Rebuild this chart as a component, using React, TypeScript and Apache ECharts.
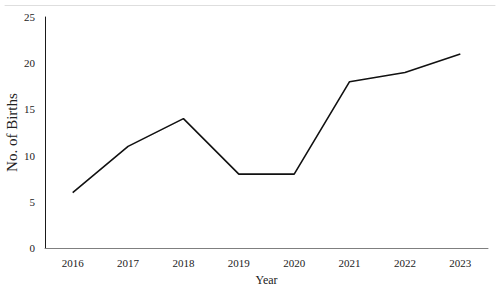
import React, { useEffect, useRef } from "react";
import * as echarts from "echarts";

const years = ["2016", "2017", "2018", "2019", "2020", "2021", "2022", "2023"];
const births = [6, 11, 14, 8, 8, 18, 19, 21];
const yTicks = { min: 0, max: 25, interval: 5 };

export default function App() {
  const ref = useRef<HTMLDivElement>(null);
  useEffect(() => {
    const chart = echarts.init(ref.current!, null, { renderer: "svg" });
    const font = "'Liberation Serif', 'Times New Roman', serif";
    chart.setOption({
      animation: false,
      backgroundColor: "#ffffff",
      textStyle: { fontFamily: font },
      grid: [
        { left: 45, right: 12, top: 17, bottom: 45, containLabel: false, outerBoundsMode: "none" },
        { left: 5, right: 5, top: 5, height: 1, containLabel: false, outerBoundsMode: "none" },
      ],
      xAxis: [
        {
          type: "category",
          gridIndex: 0,
          data: years,
          boundaryGap: true,
          name: "Year",
          nameLocation: "middle",
          nameGap: 26,
          nameMoveOverlap: false,
          nameTextStyle: { fontFamily: font, fontSize: 12, color: "#222" },
          axisLine: { lineStyle: { color: "#7f7f7f", width: 1 } },
          axisTick: { show: false },
          axisLabel: { fontFamily: font, fontSize: 11, color: "#222", margin: 9 },
          splitLine: { show: false },
        },
        {
          type: "value",
          gridIndex: 1,
          position: "top",
          min: 0,
          max: 1,
          axisLine: { show: true, onZero: false, lineStyle: { color: "#dedede", width: 1 } },
          axisTick: { show: false },
          axisLabel: { show: false },
          splitLine: { show: false },
        },
      ],
      yAxis: [
        {
          type: "value",
          gridIndex: 0,
          min: yTicks.min,
          max: yTicks.max,
          interval: yTicks.interval,
          name: "No. of Births",
          nameLocation: "middle",
          nameGap: 26,
          nameMoveOverlap: false,
          nameTextStyle: { fontFamily: font, fontSize: 15, color: "#222" },
          axisLine: { show: true, lineStyle: { color: "#1a1a1a", width: 1 } },
          axisTick: { show: false },
          axisLabel: { fontFamily: font, fontSize: 11, color: "#222", margin: 10 },
          splitLine: { show: false },
        },
        {
          type: "value",
          gridIndex: 1,
          show: false,
          min: 0,
          max: 1,
        },
      ],
      series: [
        {
          type: "line",
          xAxisIndex: 0,
          yAxisIndex: 0,
          data: births,
          symbol: "none",
          lineStyle: { color: "#111", width: 1.6 },
        },
      ],
    });
    return () => chart.dispose();
  }, []);
  return <div ref={ref} style={{ width: 500, height: 293, position: "absolute", left: 0, top: 0 }} />;
}
